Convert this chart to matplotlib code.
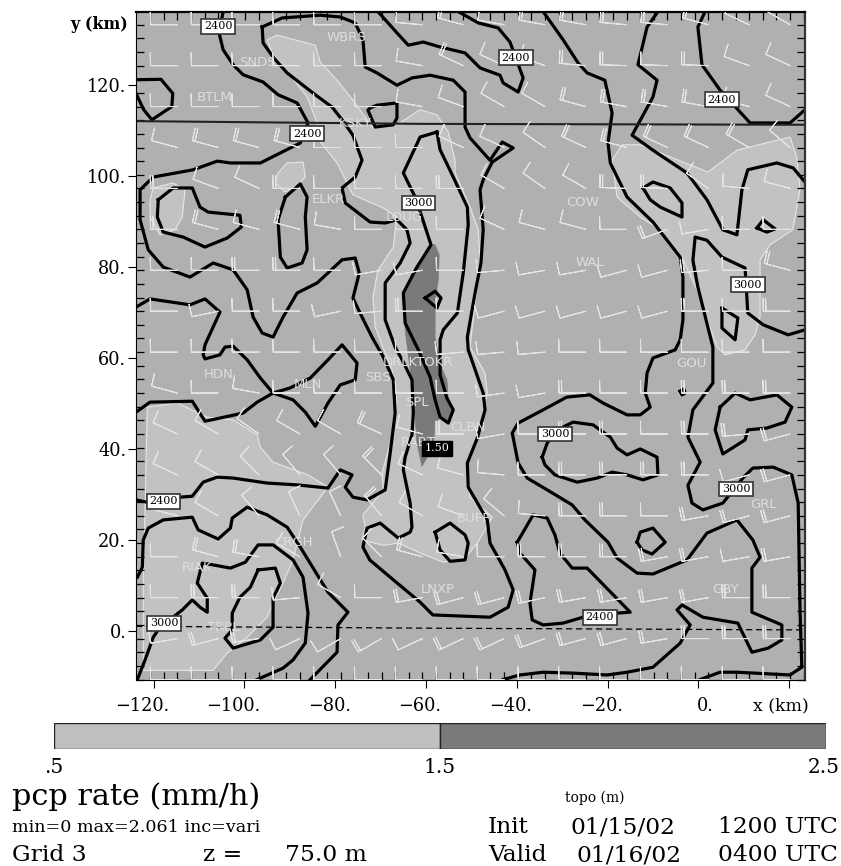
import numpy as np
import matplotlib
matplotlib.use("Agg")
import matplotlib.pyplot as plt
from matplotlib.patches import Polygon

# topo contours, (x km, y km)
topo_a = [(-104.7,136.2),(-105.6,131.5),(-104.7,127.8),(-102.5,124.5),(-100.3,122.3),(-95.9,120.7),(-92.6,117.9),(-88.4,116.1),(-86,111.7),(-87.7,107.3),(-96.5,102.9),(-103.1,102.9),(-106,103.3),(-111.3,101.4),(-120.1,99.8),(-123,97),(-123,90.4),(-121.2,83.8),(-117.9,80),(-112,77.8),(-106.9,80.9),(-102.5,79.4),(-99.4,75),(-98.1,69),(-96.1,65.5),(-93.7,64.6),(-91.5,69),(-88.4,74.3),(-84,76.5),(-78.5,81.6),(-75.6,82),(-74.7,78.7),(-76.1,73.2),(-74.1,69),(-71.9,64.6),(-69.4,60.2),(-67.2,55.2),(-66.8,47.9),(-67.9,39.1),(-69,31),(-73,28.8),(-76.1,29.4),(-77.8,31.6),(-76.3,34.3),(-78.9,35.4),(-81.6,31.4),(-88.4,32.1),(-95,32.5),(-102.5,33.6),(-106,33.8),(-109.1,32.7),(-111.5,29.6),(-114.2,29.4),(-121.5,28.3),(-123.9,28.8)]
topo_a2 = [(-123.9,121.2),(-118.4,121.3),(-115.8,118.2),(-116,115.3),(-120.4,112.4),(-122.2,114.6),(-123.9,118.2)]
topo_b = [(-123.9,71.2),(-120.8,73),(-112,71.7),(-108.7,73),(-105.4,70.1),(-108.7,62.9),(-109.1,60.7),(-108.7,59.8),(-105.4,60.7),(-104.3,62.4),(-102.5,62.6),(-99.4,59.6),(-96.5,55.6),(-93.7,52.3),(-97.2,50.3),(-100.3,47.9),(-105.4,46.8),(-108.7,46.1),(-111.5,50.5),(-120.8,50.3),(-123.9,48.1)]
topo_b2 = [(-93.7,52.3),(-89.3,50.8),(-86.6,48.1),(-84.4,45),(-81.6,50.1),(-78.9,54.1),(-75.6,55.2),(-75.2,58.9),(-78.5,62.9),(-81.6,59.6),(-85.5,55.6),(-90,53.4),(-93.7,52.3)]
topo_c = [(-119,94.8),(-115.7,97.4),(-111.5,97.4),(-109.8,93.2),(-108,92.1),(-101,91.4),(-100.7,88.8),(-103.8,86.4),(-108.7,84.4),(-113.5,86.6),(-117.9,87.7),(-119.2,91),(-119,94.8)]
topo_d = [(-91,95.4),(-87.7,98.3),(-86.2,95.4),(-86.6,91),(-86.2,83.8),(-87.3,80.9),(-90.6,79.8),(-92.1,82.2),(-92.6,90.4),(-91,95.4)]
topo_e = [(-123.6,11.8),(-122.5,14),(-122.3,20),(-121.2,22.6),(-117.9,24.4),(-111.5,25),(-110.2,22.2),(-105.8,20.2),(-103.1,22.6),(-102.7,24.8),(-99.4,27.2),(-95,25.5),(-90.6,22.8),(-87.7,18.4),(-81.6,8.5),(-77.2,4.1),(-79.4,1.3),(-79.6,-4.7),(-85.5,-10.7)]
topo_f = [(-123.6,-10.7),(-121.9,-6.4),(-120.1,-1.4),(-118.6,0.8),(-113.7,4.6),(-111.5,6.8),(-109.8,5.2),(-108.2,4.1),(-108.2,7.2),(-110.4,10.5),(-109.3,14.9),(-106.9,14.5),(-103.1,13.8),(-99.8,15.1),(-97,18.9),(-93.7,18.9),(-89.3,15.6),(-87.1,11.8),(-86,3.9),(-86.6,-2.7),(-89.3,-6.4),(-91.5,-8.2),(-97.2,-10.7)]
topo_g = [(-97,13.4),(-93.2,13.8),(-92.1,10.5),(-93.7,7.2),(-93.7,3),(-93.7,0.8),(-96.5,-2),(-102.5,-3.8),(-104.3,-1.6),(-102.7,0.2),(-102.7,3.9),(-101,7.4),(-98.7,9.6),(-97,13.4)]
topo_h = [(-96.1,132.8),(-91.7,134.8),(-83.3,135.4),(-78.9,135),(-75.6,133.7),(-73.9,130),(-73.4,124),(-70.8,122.7),(-66.4,120),(-63.1,121.6),(-59.1,122.2),(-54,121.1),(-51.4,118.5),(-51.4,110.8),(-50.3,108.4),(-45.9,103.5),(-43.2,107.5),(-40.8,106.2),(-45.4,103.1),(-47.4,99.2),(-48.1,97),(-47.4,88.2),(-47.9,80.9),(-49.2,74.3),(-50.9,64.6),(-50.7,61.8),(-47.4,52.3),(-47,48.6),(-48.7,42.4),(-50.9,36.9),(-50.7,31.6),(-46.5,24.4),(-45.9,19.3),(-42.6,13.4),(-40.8,9),(-41.9,5.2),(-45.9,3),(-58.5,3.5),(-61.3,6.3),(-67.9,11.8),(-72.4,15.6),(-73.9,18.4),(-73,22.6),(-70.1,23.7),(-68.3,22.2),(-66.1,20.4),(-63.5,21.7),(-63.1,22.8),(-63.5,28.1),(-65,35.4),(-64.6,38.2),(-63.1,43.1),(-62.8,47.9),(-63.1,55.2),(-65,59.1),(-66.8,62.4),(-69,68.4),(-69,76.5),(-65.7,80.9),(-63.5,85.3),(-64.2,88.2),(-66.4,90.4),(-69,89.7),(-72.3,89.9),(-77.8,94.1),(-78.5,97.4),(-75.6,99.8),(-74.1,103.5),(-76.1,109),(-78.5,112.4),(-80.7,115.2),(-84.4,117.9),(-90.6,122.7),(-93.7,126.2),(-95.9,129.3),(-96.1,132.8)]
topo_i = [(-57.6,109.7),(-61.3,108.6),(-65,100.7),(-62.4,95.4),(-60.9,91),(-58.9,84.9),(-62,80),(-65,74.3),(-64.6,67.7),(-61.7,61.8),(-59.1,55.8),(-58,50.8),(-56.9,47),(-55.1,45.7),(-54,48.6),(-55.4,51.2),(-56.9,56.3),(-56.9,64),(-56.2,66.2),(-53.1,69.9),(-51.8,78.7),(-50.7,89.3),(-50.9,93.2),(-54,99.8),(-56.9,105.8),(-57.6,109.7)]
topo_y = [(-60.2,73.2),(-58,74.7),(-56.7,73.2),(-57.6,71),(-60.2,73.2)]
topo_k = [(-72.3,115),(-70.8,115.6),(-66.4,116.1),(-66.4,112.8),(-67.2,111.3),(-71.2,110.8),(-72.8,114.5),(-72.3,115)]
topo_l = [(-70.6,136.2),(-66.4,131.5),(-63.9,128.8),(-60.6,129.5),(-56.9,128.4),(-51.4,127.1),(-48.1,123.8),(-43.7,122.2),(-43,120.5),(-39.7,118.5),(-38.6,121.6),(-41.5,129.5),(-44.1,132.6),(-48.5,133.7),(-52.9,136.2)]
topo_m = [(-34.2,136.2),(-29.8,130),(-26.5,124.9),(-24.5,122.7),(-20.6,121.1),(-19,113.9),(-19.9,107.3),(-19.4,102.9),(-15.7,95.4),(-10,89.9),(-4,82.2),(-3.4,77.8),(-3.4,68.4),(-4,64),(-5.1,61.8),(-10,60),(-11.3,56.7),(-11.7,52.3),(-10.6,49.2),(-12.8,47.5),(-15.7,47.5),(-21,50.1),(-23.9,51.9),(-29,51.4),(-34.2,48.6),(-39.7,45.7),(-41,43.5),(-39.7,36.9),(-37.7,33.6),(-33.3,31),(-27.8,27.7),(-25,24.4),(-19.9,19.5),(-17.9,16),(-13.5,12.7),(-10,12.5),(-2.5,15.6),(1.9,21.5),(8.5,24.4),(12,20),(13.6,16.2),(11.8,13.8),(11.8,4.1),(18.4,1.3),(18.4,-2),(15.4,-3.8),(11.8,-4.7),(8.7,1.7),(1,3),(-3.6,5.7),(-4.7,4.6),(-1.8,1.3),(-4,-2.7),(-10,-8),(-15.7,-9.1),(-20.1,-9.7),(-27.6,-9.3),(-34.2,-9.1),(-39.3,-9.7),(-43,-10.7)]
topo_n = [(-8.9,136.2),(-11.3,132.8),(-13.3,124.5),(-9.1,121.1),(-10,117.4),(-14.6,109),(-10,105.7),(-2.5,100.7),(1.9,94.8),(5.4,88.2),(8.5,87.1),(9.6,97),(10.9,101.4),(17.3,102.9),(20.9,101.8),(23.5,98.7)]
topo_o = [(1.5,136.2),(-0.1,132.8),(0.8,124.5),(4.8,118.9),(11.4,111.7),(20.2,111.7),(23.5,114.6)]
topo_p = [(-12.2,97.4),(-10,98.7),(-6.2,97.4),(-3.6,94.1),(-3.6,91),(-8.4,93.2),(-10.6,94.8),(-12.2,97.4)]
topo_q = [(12.9,88.6),(14.3,90.4),(16.9,88.4),(15.1,87.7),(12.9,88.6)]
topo_r = [(23.5,66.2),(19.8,65.1),(14.3,67.3),(10.9,69.9),(10.3,79.8),(5.2,82.2),(1.9,85.9),(-0.7,86.6),(-1.2,81.5),(-0.1,75.6),(3.2,62.4),(3.2,54.5),(-1.2,48.6),(-2.3,42.6),(0.4,37.1),(-2.3,32),(-1.4,28.1),(1,26.6),(5.4,28.1),(9.8,33.6),(12,35.8),(16.5,36),(20.6,34.3),(22,28.1),(22.4,4.6),(22.8,-8),(20.2,-9.7),(8.5,-9.1),(4.8,-9.1),(0.4,-10.7)]
topo_s = [(5.2,71),(8.7,68.8),(8.1,64),(5.2,66.6),(5.2,71)]
topo_t = [(4.8,49.2),(8.1,52.3),(11.4,50.8),(17.3,51.9),(20.6,49.2),(19.1,45.9),(15.1,44.6),(10.9,44.2),(10.3,42),(5.4,38.9),(3.7,44.2),(4.8,49.2)]
topo_u = [(-34.4,38.2),(-33.3,41.3),(-31.1,44.2),(-27.6,45.9),(-23.2,45.3),(-19.4,42.6),(-17.9,40.2),(-15.7,38.7),(-12.8,40),(-9.1,38.2),(-8.9,34.3),(-12.2,33.2),(-15.7,34.3),(-19,34.9),(-22.3,33.6),(-26.7,32.7),(-31.6,34.3),(-33.8,36.5),(-34.4,38.2)]
topo_v = [(-13.5,19.5),(-12.8,21.7),(-10,22.6),(-7.3,19.5),(-10.2,16.9),(-12.4,17.8),(-13.5,19.5)]
topo_w = [(-58,21.7),(-54.7,23.7),(-51.4,21.1),(-50.7,19.3),(-51.4,15.6),(-54.7,15.3),(-56.9,17.8),(-58,21.7)]
topo_x = [(-39.9,19.5),(-36.4,25.5),(-33.3,24.8),(-31.6,21.1),(-30.5,17.1),(-27.8,13.8),(-24.5,13.8),(-15,4.1),(-17.9,3.9),(-25.4,3),(-29.8,1.7),(-34.2,1.3),(-36.6,2.4),(-37.1,6.1),(-36,13.4),(-39.3,17.1),(-39.9,19.5)]
topo_dot = [(-4,52.7),(-3.2,53.2),(-2.9,52.3),(-3.6,51.9),(-4,52.7)]
topo_lines = [topo_a, topo_a2, topo_b, topo_b2, topo_c, topo_d, topo_e, topo_f, topo_g, topo_h, topo_i, topo_y, topo_k,
              topo_l, topo_m, topo_n, topo_o, topo_p, topo_q, topo_r, topo_s, topo_t, topo_u, topo_v, topo_w, topo_x, topo_dot]

# rain areas, 0.5-1.5 mm/h
rain_ridge = [(-95,130),(-92.8,131),(-84.4,128.8),(-83.3,125.1),(-79.6,121.1),(-76.1,116.7),(-73,112.4),(-71.7,110.8),(-66.4,111.3),(-61.3,114.6),(-57.6,113.5),(-55.1,109.7),(-53.6,103.5),(-53.6,100.7),(-50.3,93.2),(-48.5,88.2),(-48.1,81.6),(-50.3,62.4),(-47,56.7),(-46.5,52.3),(-48.7,42.4),(-50.9,36.5),(-50.3,29.4),(-45.4,25),(-48.7,19.3),(-51.4,16),(-56.2,15.1),(-61.3,17.1),(-66.1,19.3),(-69.4,18.8),(-74.1,20),(-73.4,22.8),(-73.9,25.5),(-69.4,31),(-69.7,34.7),(-67.5,42.6),(-66.8,47.9),(-66.4,50.1),(-67.5,57.4),(-69,61.1),(-71.2,66.8),(-71.7,73.4),(-70.6,79.3),(-67.2,84.4),(-66.8,88.2),(-66.4,91),(-69.4,93),(-76.1,95.9),(-77.4,98.5),(-79.6,102.9),(-84,108.4),(-84,111.7),(-86.2,117.4),(-90,122.3),(-93.9,127.1)]
rain_west = [(-120.8,94.8),(-120.1,97.4),(-115.7,98.5),(-113.1,96.9),(-113.7,91),(-115.3,88.2),(-118.6,87.1),(-120.8,91)]
rain_elkr = [(-92.6,100.7),(-90.6,102.9),(-87.1,103.1),(-86.6,99.8),(-88.2,98.1),(-91,96.5),(-93.2,98.5)]
rain_east = [(-19,103.5),(-16.8,106.9),(-12.8,106.9),(2.1,100.9),(8.5,105.7),(20.2,108.6),(21.7,104.2),(22.4,97),(20.8,88.2),(15.8,84.9),(13.6,81.6),(13.6,69),(12.5,65.1),(10.3,61.8),(5.9,60.7),(4.1,62.4),(-0.3,75),(-3.4,81.6),(-8.4,88.2),(-12.8,91),(-17.9,95.4)]
rain_sw = [(-121.4,49.2),(-114.8,50.1),(-108.2,47),(-102.5,46.4),(-97.2,43.1),(-96.5,40.4),(-93.7,37.1),(-86,34.3),(-81.6,31.6),(-87.1,24.4),(-89.3,15.6),(-91.5,10.5),(-93.7,6.1),(-95,3),(-99.4,-1.4),(-103.8,-4.9),(-106.9,-8.7),(-122.3,-8.7),(-122.3,10.5)]
rain_light = [rain_ridge, rain_west, rain_elkr, rain_east, rain_sw]
# 1.5-2.5 mm/h
rain_heavy = [(-58,84.9),(-57.1,82.7),(-57.3,77.2),(-58,72.3),(-58,64.6),(-56.9,58.5),(-55.4,55.2),(-55.1,50.8),(-54.2,48.6),(-54.7,45.9),(-56.9,47),(-58,45.7),(-58.4,40.4),(-60.9,36.2),(-62,41.3),(-62.4,47),(-63.1,55.2),(-63.5,57.4),(-64.6,66.2),(-65,74.3),(-62,80),(-58.9,84.9)]

# wind barbs on the 9 km grid
barb_x = [-114.8,-105.8,-96.8,-87.8,-78.8,-69.8,-60.8,-51.8,-42.8,-33.8,-24.8,-15.8,-6.8,2.2,11.2,20.2]
barb_y = [133.3,124.3,115.3,106.3,97.3,88.3,79.3,70.3,61.3,52.3,43.3,34.3,25.3,16.3,7.3,-1.7,-10.7]
wind_dir = [
    [270,270,270,270,270,270,275,285,280,280,280,275,275,285,295,300],
    [270,270,270,270,270,270,280,295,295,290,275,272,272,272,290,295],
    [270,270,270,270,270,270,280,290,300,300,285,280,280,280,285,295],
    [285,285,285,285,270,270,270,295,295,305,295,285,295,295,300,310],
    [270,290,295,270,270,270,270,270,300,305,300,272,272,305,275,285],
    [270,285,285,285,280,270,270,270,295,285,285,270,250,260,270,270],
    [270,270,270,270,270,260,260,270,265,260,260,255,255,265,270,285],
    [270,258,270,270,258,265,270,270,255,255,255,255,255,270,270,270],
    [270,270,270,270,270,270,270,265,265,265,270,270,270,270,270,270],
    [285,270,280,270,270,270,270,270,262,260,270,270,270,270,270,270],
    [295,300,305,300,300,295,285,270,260,270,270,270,270,270,265,255],
    [295,300,315,320,320,315,295,285,275,270,270,270,270,270,255,255],
    [285,300,320,335,335,320,300,290,310,275,270,270,270,260,255,255],
    [270,285,280,300,340,315,285,280,270,270,270,270,260,260,260,260],
    [270,270,270,265,300,270,260,255,255,258,260,260,260,260,270,270],
    [260,255,262,245,240,240,245,245,245,250,255,255,260,270,270,270],
    [270,270,270,270,270,270,270,270,270,270,270,270,270,270,270,270],
]
wind_speed = [
    [10,10,10,10,10,10,10,20,10,20,20,20,20,20,10,10],
    [10,10,10,10,10,10,10,20,10,10,20,20,10,20,10,10],
    [10,10,10,10,10,10,10,10,10,10,20,20,20,20,10,10],
    [10,20,20,20,10,10,10,10,10,10,20,20,20,20,20,10],
    [20,10,10,20,10,10,10,20,10,10,10,20,20,10,10,10],
    [20,20,10,20,10,10,10,10,10,10,10,10,20,10,10,10],
    [10,10,20,20,10,10,10,10,10,10,10,10,10,20,10,20],
    [10,10,10,10,10,10,20,10,10,10,10,10,10,20,10,20],
    [10,10,10,10,10,10,10,10,10,10,10,10,10,10,10,10],
    [10,10,10,10,10,10,10,10,10,10,20,10,10,20,20,20],
    [10,10,10,10,10,20,10,20,10,10,20,20,10,20,20,20],
    [10,10,10,10,10,20,10,10,10,10,20,20,20,20,10,20],
    [10,10,10,10,10,20,10,10,10,10,20,20,10,20,20,20],
    [10,20,20,10,10,10,20,10,10,20,20,20,20,20,10,20],
    [10,20,20,10,10,10,20,20,20,20,20,20,20,20,20,20],
    [10,20,20,10,10,20,10,20,20,20,20,20,20,20,20,20],
    [10,10,10,10,10,10,10,10,10,10,10,10,10,10,10,10],
]

stations = ["WBRS","SNDS","BTLM","KSKY","ELKR","LOUG","COW","WAL","GOU","HDN","MLN","SBS","DRLKTOKR",
            "SPL","RABT","CLBN","BUFF","GRL","CRGH","RIAK","TRPL","LNXP","GBY"]
station_x = [-77.6,-97.2,-106.5,-75.6,-81.6,-64.8,-25.4,-23.9,-1.6,-105.8,-86,-70.5,-61.7,-62,-61.7,-50.7,-49.6,14.3,-89.3,-110.4,-104.7,-57.3,5.9]
station_y = [130.4,125.1,117.4,111.5,94.8,91,94.3,81.1,58.9,56.3,54.1,55.8,59.1,50.3,41.5,44.8,24.8,27.7,19.5,14,0.8,9.2,9]

label_text = ["2400","2400","2400","2400","3000","3000","3000","3000","2400","3000","2400"]
label_x = [-105.8,-40.2,5.2,-86.2,-61.7,10.9,-31.6,8.3,-117.9,-117.7,-21.7]
label_y = [133,126,116.8,109.3,94.1,76.1,43.3,31.2,28.5,1.7,3]

x_ticks = [-120,-100,-80,-60,-40,-20,0,20]
x_labels = ["\u2212120.","\u2212100.","\u221280.","\u221260.","\u221240.","\u221220.","0.",""]
y_ticks = [0,20,40,60,80,100,120]
y_labels = ["0.","20.","40.","60.","80.","100.","120."]

bar_levels = [0.5,1.5,2.5]
bar_colors = ["#c0c0c0","#7a7a7a"]

plt.rcParams["font.family"] = "DejaVu Serif"

fig = plt.figure(figsize=(8.41,8.66), dpi=100)
ax = fig.add_axes([136/841, (866-679.5)/866, 669/841, 667.5/866])
ax.set_facecolor("#b0b0b0")
ax.set_xlim(-123.9,23.5)
ax.set_ylim(-10.7,136.1)

for area in rain_light:
    ax.add_patch(Polygon(area, closed=True, fc="#c2c2c2", ec="#e6e6e6", lw=0.8, zorder=1))
ax.add_patch(Polygon(rain_heavy, closed=True, fc="#7a7a7a", ec="#7a7a7a", lw=0.5, zorder=1.1))

for line in topo_lines:
    xs, ys = zip(*line)
    ax.plot(xs, ys, color="black", lw=2.3, solid_joinstyle="round", zorder=2)

# cross section lines
ax.plot([-123.9,-61.3,23.5], [112.1,111.5,111.3], color="#222222", lw=1.5, zorder=2)
ax.plot([-123.9,-61.3,23.5], [1,0.6,0.2], color="black", lw=0.9, ls=(0,(5,3)), zorder=2)

# wind barbs, matplotlib squares the length so 6.2 gives a 27 px shaft
X, Y = np.meshgrid(barb_x, barb_y)
d = np.radians(np.array(wind_dir))
s = np.array(wind_speed)
ax.barbs(X, Y, -s*np.sin(d), -s*np.cos(d), pivot="tip", length=6.2, linewidth=0.75,
         barbcolor="#e4e4e4", flagcolor="#e4e4e4", barb_increments=dict(half=5, full=10, flag=50),
         sizes=dict(width=0.03, height=0.48, spacing=0.1), zorder=3, clip_on=True)

for name, x, y in zip(stations, station_x, station_y):
    ax.text(x, y, name, color="#dedede", fontsize=9.5, family="DejaVu Sans", ha="center", va="center", zorder=4)

for txt, x, y in zip(label_text, label_x, label_y):
    ax.text(x, y, txt, color="black", fontsize=8, ha="center", va="center", zorder=5,
            bbox=dict(boxstyle="square,pad=0.22", fc="white", ec="#333333", lw=1.2))
ax.text(-57.6, 40.2, "1.50", color="white", fontsize=8, ha="center", va="center", zorder=5,
        bbox=dict(boxstyle="square,pad=0.22", fc="black", ec="black", lw=1.0))

# ticks: big ones outside on left and bottom, 3 km ones inside on all four sides
ax.set_xticks(x_ticks)
ax.set_xticklabels([])
ax.set_yticks(y_ticks)
ax.set_yticklabels(y_labels, fontsize=12.8)
ax.set_xticks(np.arange(-120.8,23.5,3), minor=True)
ax.set_yticks(np.arange(-10.7,134,3), minor=True)
ax.tick_params(which="major", direction="out", length=6, width=0.8, pad=1)
ax.tick_params(which="minor", direction="in", length=6, width=0.9, top=True, right=True, left=True, bottom=True)
for t, lab in zip(x_ticks, x_labels):
    ax.annotate(lab, xy=(t,-10.7), xytext=(11,-19), textcoords="offset points", ha="right", va="center", fontsize=12.8)
ax.annotate("x (km)", xy=(20,-10.7), xytext=(14,-19), textcoords="offset points", ha="right", va="center", fontsize=12.5)
ax.annotate("y (km)", xy=(-123.9,133.3), xytext=(-6,0), textcoords="offset points", ha="right", va="center",
            fontsize=11.5, fontweight="bold")

for side in ["top","right"]:
    ax.spines[side].set_linewidth(1.6)
ax.spines["right"].set_color("#333333")
ax.spines["left"].set_linewidth(0.8)
ax.spines["bottom"].set_linewidth(0.8)

# colour bar
cax = fig.add_axes([54/841, (866-749)/866, 772/841, 26.5/866])
for i in range(len(bar_colors)):
    cax.barh(0, bar_levels[i+1]-bar_levels[i], left=bar_levels[i], height=1, color=bar_colors[i], edgecolor="#222222", lw=1)
cax.set_xlim(bar_levels[0], bar_levels[-1])
cax.set_ylim(-0.5,0.5)
cax.axis("off")
for lev, lab, dx in zip(bar_levels, [".5","1.5","2.5"], [0,0,-2]):
    cax.annotate(lab, xy=(lev,-0.5), xytext=(dx,-13), textcoords="offset points", ha="center", va="center", fontsize=14.5, annotation_clip=False)

fig.text(12/841, 1-797/866, "pcp rate (mm/h)", fontsize=21.8, va="center")
fig.text(12/841, 1-828/866, "min=0 max=2.061 inc=vari", fontsize=12.6, va="center")
fig.text(12/841, 1-855/866, "Grid 3", fontsize=16.8, va="center")
fig.text(203/841, 1-855/866, "z =", fontsize=16.8, va="center")
fig.text(285/841, 1-855/866, "75.0 m", fontsize=16.8, va="center")
fig.text(595/841, 1-798/866, "topo (m)", fontsize=10, ha="center", va="center")
fig.text(488/841, 1-827/866, "Init", fontsize=16.8, va="center")
fig.text(570/841, 1-827/866, "01/15/02", fontsize=16.8, va="center")
fig.text(718/841, 1-827/866, "1200 UTC", fontsize=16.8, va="center")
fig.text(488/841, 1-855/866, "Valid", fontsize=16.8, va="center")
fig.text(577/841, 1-855/866, "01/16/02", fontsize=16.8, va="center")
fig.text(718/841, 1-855/866, "0400 UTC", fontsize=16.8, va="center")

fig.savefig("out.png", dpi=100)
